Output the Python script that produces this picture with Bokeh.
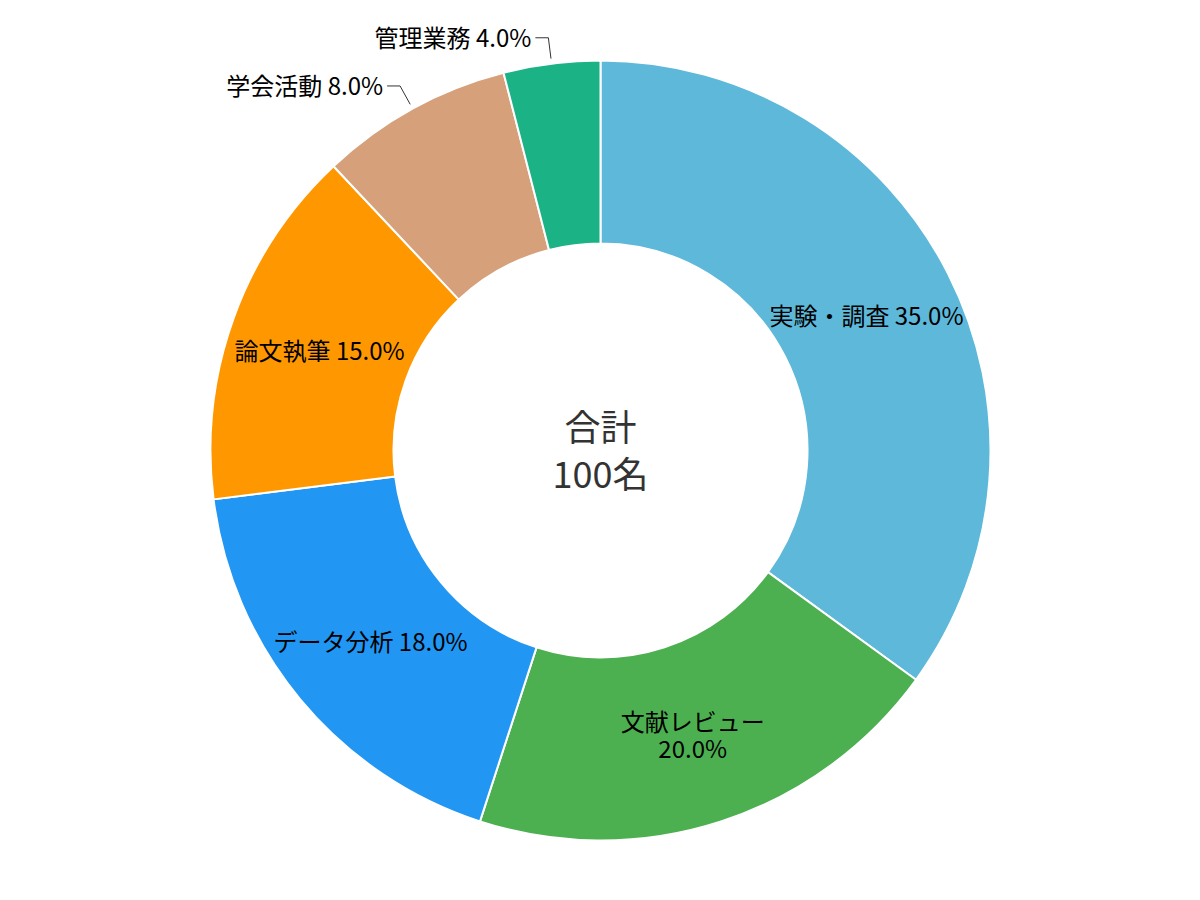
import math
from bokeh.plotting import figure
from bokeh.models import Range1d
from bokeh.core.properties import value
from bokeh.embed import file_html
from bokeh.resources import INLINE

categories = ["実験・調査", "文献レビュー", "データ分析", "論文執筆", "学会活動", "管理業務"]
shares = [35.0, 20.0, 18.0, 15.0, 8.0, 4.0]
colors = ["#5db8da", "#4caf50", "#2196f3", "#ff9800", "#d6a07a", "#1bb386"]
inside = [True, True, True, True, False, False]
wrap = [False, True, False, False, False, False]
center_lines = ["合計", "100名"]

FONT = "Noto Sans CJK JP"
W, H = 1184, 884
CX, CY = 600, 450  # pixel position of donut centre inside the figure
R_OUT, R_IN = 390, 207

p = figure(width=W, height=H, output_backend="svg", toolbar_location=None,
           x_range=Range1d(-CX, W - CX), y_range=Range1d(-(H - CY), CY),
           min_border=0)
p.axis.visible = False
p.grid.visible = False
p.outline_line_color = None
p.background_fill_color = "white"

total = sum(shares)
starts, ends, mids = [], [], []
acc = 0.0
for s in shares:
    a0 = math.pi / 2 - 2 * math.pi * acc / total
    a1 = math.pi / 2 - 2 * math.pi * (acc + s) / total
    starts.append(a0)
    ends.append(a1)
    mids.append((a0 + a1) / 2)
    acc += s

p.annular_wedge(x=[0] * len(shares), y=[0] * len(shares), inner_radius=R_IN, outer_radius=R_OUT,
                start_angle=starts, end_angle=ends, direction="clock",
                fill_color=colors, line_color="white", line_width=2)

LBL = "24px"
r_mid = (R_OUT + R_IN) / 2
for cat, s, m, ins, wr in zip(categories, shares, mids, inside, wrap):
    lab = f"{s:.1f}%"
    if ins:
        x = r_mid * math.cos(m)
        y = r_mid * math.sin(m)
        if wr:
            p.text(x=[x, x], y=[y + 13.5, y - 13.5], text=[cat, lab], text_font=value(FONT),
                   text_font_size=LBL, text_color="#000000",
                   text_align="center", text_baseline="middle")
        else:
            p.text(x=[x], y=[y], text=[f"{cat} {lab}"], text_font=value(FONT),
                   text_font_size=LBL, text_color="#000000",
                   text_align="center", text_baseline="middle")
    else:
        x1, y1 = 395 * math.cos(m), 395 * math.sin(m)
        x2, y2 = 416 * math.cos(m), 416 * math.sin(m)
        x3, y3 = x2 - 13, y2
        p.line(x=[x1, x2, x3], y=[y1, y2, y3], line_color="#333333", line_width=1)
        p.text(x=[x3 - 4], y=[y3 + 1], text=[f"{cat} {lab}"], text_font=value(FONT),
               text_font_size=LBL, text_color="#000000",
               text_align="right", text_baseline="middle")

p.text(x=[0, 0], y=[26, -21], text=center_lines, text_font=value(FONT),
       text_font_size="36px", text_color="#333333",
       text_align="center", text_baseline="middle")

open("out.html", "w").write(file_html(p, INLINE))
